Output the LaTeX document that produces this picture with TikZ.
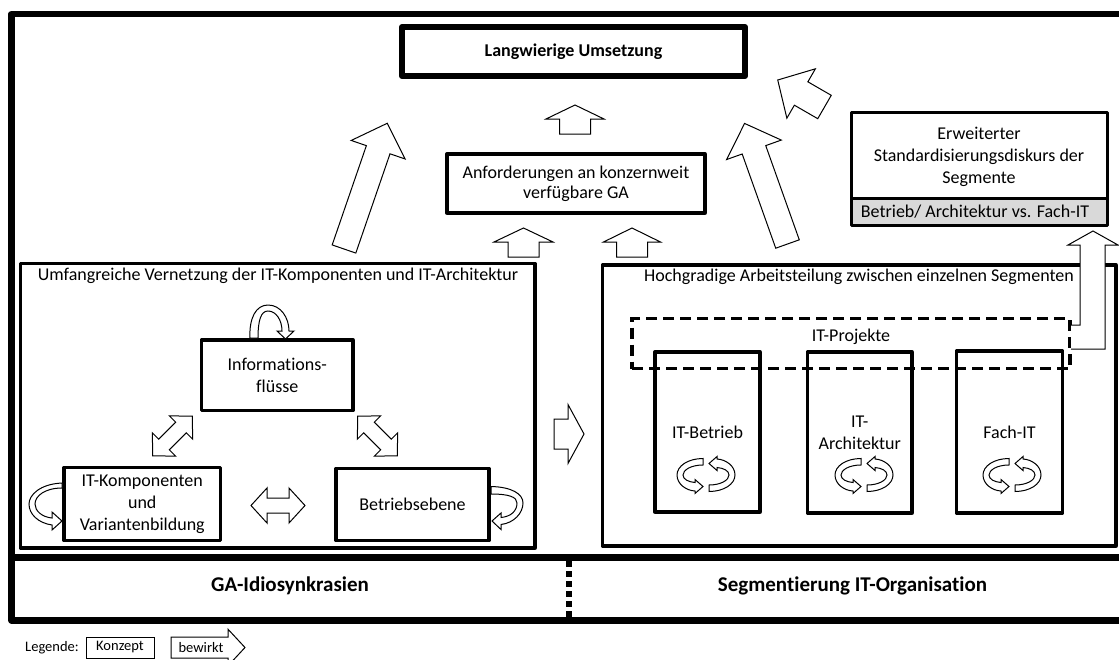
\documentclass[tikz,border=0pt]{standalone}
\usepackage{fontspec}
\setmainfont{Carlito}[Ligatures=NoCommon]
\usetikzlibrary{calc}

% straight block arrow: tail centre, screen angle, length, shaft width, head width, head length
\newcommand{\myblockarrow}[6]{%
  \begin{scope}[shift={(#1)},rotate=#2]
    \draw[arrowshape] (0,{-(#4)/2}) -- ({#3-#6},{-(#4)/2}) -- ({#3-#6},{-(#5)/2}) -- (#3,0)
      -- ({#3-#6},{(#5)/2}) -- ({#3-#6},{(#4)/2}) -- (0,{(#4)/2}) -- cycle;
  \end{scope}}
% double-headed block arrow: centre, angle, length, shaft width, head width, head length
\newcommand{\mydoublearrow}[6]{%
  \begin{scope}[shift={(#1)},rotate=#2]
    \draw[arrowshape] ({-(#3)/2},0) -- ({-(#3)/2+#6},{(#5)/2}) -- ({-(#3)/2+#6},{(#4)/2})
      -- ({(#3)/2-#6},{(#4)/2}) -- ({(#3)/2-#6},{(#5)/2}) -- ({(#3)/2},0)
      -- ({(#3)/2-#6},{-(#5)/2}) -- ({(#3)/2-#6},{-(#4)/2}) -- ({-(#3)/2+#6},{-(#4)/2})
      -- ({-(#3)/2+#6},{-(#5)/2}) -- cycle;
  \end{scope}}

\tikzset{
  arrowshape/.style={draw=black, fill=white, line width=1pt, line join=miter},
  lbl/.style={font=\fontsize{18}{22}\selectfont, align=center, inner sep=0pt, outer sep=0pt},
  concept/.style={draw, line width=#1, line join=round, lbl},
  frameline/.style={line width=6.5pt},
  small/.style={font=\fontsize{14.5}{17}\selectfont, inner sep=0pt},
  % pair of curved arrows forming a cycle
  cyclepair/.pic={
    \draw[arrowshape] (-3,-16.5) .. controls (-18,-16.5) and (-29,-9) .. (-29,0)
      .. controls (-29,9) and (-20,15.5) .. (-11,16) -- (-11,18.5) -- (-3,11.5) -- (-11,4.5)
      -- (-11,7.5) .. controls (-18,7) and (-23,4) .. (-23,0)
      .. controls (-23,-5) and (-15,-10) .. (-3,-10) -- cycle;
    \draw[arrowshape] (3,16.5) .. controls (18,16.5) and (29,9) .. (29,0)
      .. controls (29,-9) and (20,-15.5) .. (11,-16) -- (11,-18.5) -- (3,-11.5) -- (11,-4.5)
      -- (11,-7.5) .. controls (18,-7) and (23,-4) .. (23,0)
      .. controls (23,5) and (15,10) .. (3,10) -- cycle;
  }
}

\begin{document}
\begin{tikzpicture}[x=1pt,y=-1pt]
\useasboundingbox (0,0) rectangle (1119,659);
\clip (0,0) rectangle (1119,659);

% outer frame with the bottom band
\draw[frameline, line join=round] (1136,14) -- (11.5,14) -- (11.5,620.5) -- (1136,620.5);
\draw[frameline] (11.5,557.5) -- (1136,557.5);
\draw[frameline, dash pattern=on 6pt off 4pt] (569,561) -- (569,618);
\node[lbl, anchor=base, font=\bfseries\fontsize{21}{25}\selectfont] (gaid) at (290,591) {GA-Idiosynkrasien};
\node[lbl, anchor=base, font=\bfseries\fontsize{21}{25}\selectfont] (segorg) at (852.5,591) {Segmentierung IT-Organisation};

% top concepts
\node[concept=6pt, minimum width=343pt, minimum height=49pt, font=\bfseries\fontsize{18}{22}\selectfont] (lang) at (573.5,51.5) {Langwierige Umsetzung};
\node[concept=3.3pt, minimum width=258pt, minimum height=59pt, font=\fontsize{18}{20}\selectfont] (anf) at (576,183.5) {Anforderungen an konzernweit\\verfügbare GA};
\fill[gray!30] (851.5,198) rectangle (1107,225.5);
\node[concept=3pt, minimum width=255.5pt, minimum height=113.5pt] (erw) at (979.25,168.75) {};
\draw[line width=3pt] (851.5,198) -- (1107,198);
\node[lbl] (erwtext) at (979,157) {Erweiterter\\Standardisierungsdiskurs der\\Segmente};
\node[lbl] (erwsub) at (975,212) {Betrieb/ Architektur vs. Fach-IT};

% left cluster
\node[concept=3.3pt, minimum width=514.5pt, minimum height=284.5pt] (umf) at (277.75,405.75) {};
\node[lbl, anchor=base] (umftitle) at (278,280) {Umfangreiche Vernetzung der IT-Komponenten und IT-Architektur};
\node[concept=3.3pt, minimum width=151.5pt, minimum height=70.5pt] (info) at (277.25,375.25) {Informations-\\flüsse};
\node[concept=3.3pt, minimum width=156.5pt, minimum height=73pt] (itk) at (142.25,504) {IT-Komponenten\\und\\Variantenbildung};
\node[concept=3.3pt, minimum width=153pt, minimum height=72pt] (betr) at (412.5,504.5) {Betriebsebene};

% right cluster
\node[concept=3.3pt, minimum width=513.5pt, minimum height=281pt] (hoch) at (859.25,405.5) {};
\node[lbl, anchor=base] (hochtitle) at (859,281) {Hochgradige Arbeitsteilung zwischen einzelnen Segmenten};
\node[concept=3.3pt, minimum width=105pt, minimum height=160pt] (itb) at (707.5,432) {IT-Betrieb};
\node[concept=3.3pt, minimum width=104.5pt, minimum height=161pt] (ita) at (859.75,432.5) {IT-\\Architektur};
\node[concept=3.3pt, minimum width=106pt, minimum height=162pt] (fit) at (1009.5,432) {Fach-IT};
\node[draw, line width=3.3pt, dash pattern=on 11pt off 6pt, minimum width=438pt, minimum height=50pt, inner sep=0pt] (proj) at (851,343.5) {};
\node[lbl, anchor=base] (projlbl) at (851,341) {IT-Projekte};

% cycles inside the segments
\pic (cycb) at (706,475) {cyclepair};
\pic (cyca) at (864,475) {cyclepair};
\pic (cycf) at (1012,475) {cyclepair};

% self-reinforcing loops
\draw[arrowshape] (250,338) .. controls (249,318) and (256,305) .. (268,305)
  .. controls (281,305) and (289,318) .. (289,331) -- (294,331) -- (285.5,339) -- (277,331)
  -- (282,331) .. controls (282,320) and (276,311) .. (268,311)
  .. controls (261,311) and (258,320) .. (258,338) -- cycle;
\draw[arrowshape] (62,483) .. controls (40,484) and (29,495) .. (29,504)
  .. controls (29,514) and (38,523) .. (52,525) -- (52,530) -- (62,521) -- (52,512)
  -- (52,518) .. controls (42,517) and (35,511) .. (35,504)
  .. controls (35,496) and (45,488) .. (62,488) -- cycle;
\draw[arrowshape] (491,486.5) .. controls (512,487) and (523,494) .. (523,503)
  .. controls (523,513) and (514,523) .. (501,524.5) -- (501,529.5) -- (492,521) -- (501,513)
  -- (501,517.5) .. controls (511,516.5) and (517,511) .. (517,503)
  .. controls (517,497) and (509,494) .. (491,494) -- cycle;

% mutual influence inside the left cluster
\mydoublearrow{172.5,436}{45}{56}{15}{33}{16}
\mydoublearrow{377.5,436}{135}{56}{15}{33}{16}
\mydoublearrow{278,505.5}{0}{54}{15}{35}{16}

% effects
\myblockarrow{344,249}{71}{133}{25}{57}{28}
\myblockarrow{787.5,244}{109.6}{128}{25}{58}{28}
\myblockarrow{824.5,107}{150}{54}{27}{57}{27}
\myblockarrow{575,134}{90}{29}{31}{58}{14}
\myblockarrow{523.5,257}{90}{29}{31}{59}{14}
\myblockarrow{632,257}{90}{29}{31}{57}{14}
\myblockarrow{554,434}{0}{30}{30}{59}{16}
\draw[arrowshape] (1071,325) -- (1080,325) -- (1080,245) -- (1068,245) -- (1093,231)
  -- (1118,245) -- (1105,245) -- (1105,349) -- (1071,349);

% legend
\node[small, anchor=base west] (legtitle) at (25,651.5) {Legende:};
\node[small, draw, line width=1pt, minimum width=68pt, minimum height=21pt] (legkon) at (120,647.5) {Konzept};
\myblockarrow{171,647.5}{0}{74}{21}{36.6}{17}
\node[small] (legbew) at (201,647.5) {bewirkt};
\end{tikzpicture}
\end{document}
